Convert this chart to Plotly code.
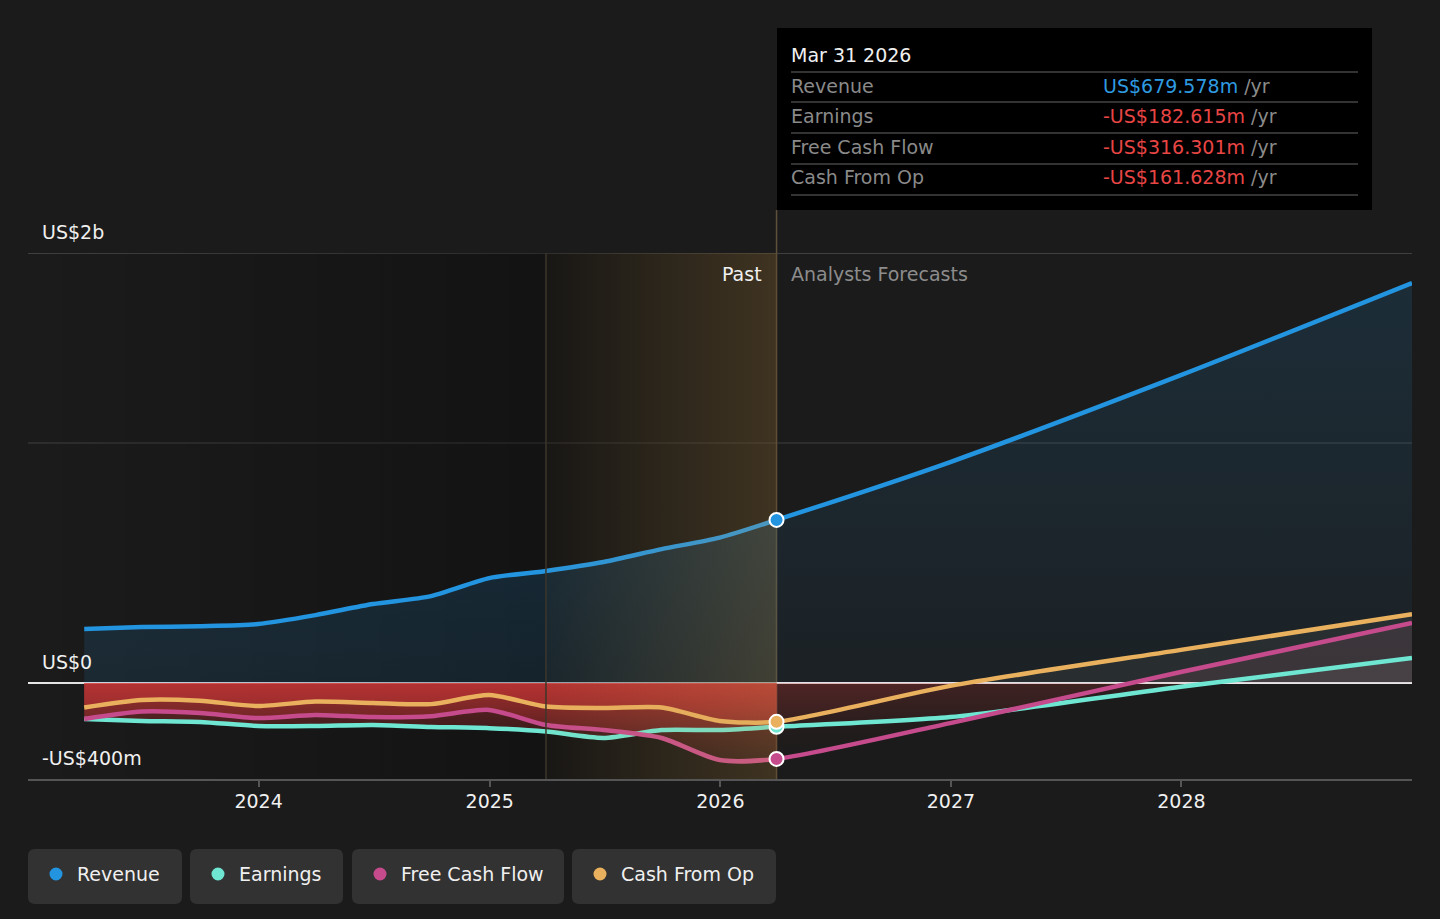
import plotly.graph_objects as go

# quarterly history, then analyst forecasts (US$m)
past_dates = ['2023-03-31', '2023-06-30', '2023-09-30', '2023-12-31', '2024-03-31', '2024-06-30',
              '2024-09-30', '2024-12-31', '2025-03-31', '2025-06-30', '2025-09-30', '2025-12-31',
              '2026-03-31']
forecast_dates = ['2026-03-31', '2026-12-31', '2027-12-31', '2028-12-31']

revenue_past = [225, 233, 237, 246, 283, 329, 362, 437, 467, 504, 558, 606, 679.578]
revenue_fc = [679.578, 921, 1283, 1667]
earnings_past = [-150, -158, -162, -179, -179, -175, -183, -188, -202, -229, -196, -196, -182.615]
earnings_fc = [-182.615, -142, -16, 104]
fcf_past = [-150, -119, -125, -146, -133, -142, -138, -112, -175, -196, -229, -321, -316.301]
fcf_fc = [-316.301, -167, 46, 250]
cfo_past = [-102, -71, -74, -96, -77, -83, -88, -50, -98, -104, -102, -158, -161.628]
cfo_fc = [-161.628, -12, 138, 287]

names = ['Revenue', 'Earnings', 'Free Cash Flow', 'Cash From Op']
colors = ['#2394df', '#6ee6d2', '#c64b8d', '#e9b05e']

X_START, PAST_START, NOW, X_END = '2023-01-01', '2025-03-31', '2026-03-31', '2028-12-31'
Y_MIN, Y_MAX, Y_MID = -400, 1792, 1000

# pixel layout of the page
W, H = 1440, 919
ML, MR, MT, MB = 28, 28, 253, 140
PW, PH = W - ML - MR, H - MT - MB
FONT = 'DejaVu Sans'


def px(x):
    return (x - ML) / PW


def py(y):
    return (H - MB - y) / PH


fig = go.Figure()

# darker "past" region behind everything
fig.add_trace(go.Scatter(
    x=[X_START, NOW, NOW, X_START, X_START], y=[Y_MIN, Y_MIN, Y_MAX, Y_MAX, Y_MIN],
    mode='none', fill='toself', hoverinfo='skip',
    fillgradient=dict(type='horizontal', colorscale=[[0, 'rgba(0,0,0,0)'], [0.69, 'rgba(0,0,0,0.3)'],
                                                     [1, 'rgba(0,0,0,0.3)']])))

# revenue area
fig.add_trace(go.Scatter(
    x=past_dates, y=revenue_past, mode='lines', line=dict(width=0, shape='spline', smoothing=0.7),
    fill='tozeroy', hoverinfo='skip',
    fillgradient=dict(type='vertical', start=0, stop=700,
                      colorscale=[[0, 'rgba(35,148,223,0.12)'], [1, 'rgba(35,148,223,0.18)']])))
fig.add_trace(go.Scatter(
    x=forecast_dates, y=revenue_fc, mode='lines', line=dict(width=0, shape='spline', smoothing=0.7),
    fill='tozeroy', hoverinfo='skip',
    fillgradient=dict(type='vertical', start=0, stop=1700,
                      colorscale=[[0, 'rgba(35,148,223,0.05)'], [1, 'rgba(35,148,223,0.15)']])))

# negative-side areas
pos_tints = ['rgba(200,200,200,0.08)', 'rgba(225,120,150,0.10)', 'rgba(215,200,175,0.07)']
for past, fc, tint in zip([earnings_past, fcf_past, cfo_past], [earnings_fc, fcf_fc, cfo_fc], pos_tints):
    fig.add_trace(go.Scatter(
        x=past_dates, y=past, mode='lines', line=dict(width=0, shape='spline', smoothing=0.7),
        fill='tozeroy', hoverinfo='skip',
        fillgradient=dict(type='vertical', start=-420, stop=0,
                          colorscale=[[0, 'rgba(200,50,50,0.0)'], [1, 'rgba(210,55,55,0.45)']])))
    fig.add_trace(go.Scatter(
        x=forecast_dates, y=fc, mode='lines', line=dict(width=0, shape='spline', smoothing=0.7),
        fill='tozeroy', hoverinfo='skip',
        fillgradient=dict(type='vertical', start=-320, stop=320,
                          colorscale=[[0, 'rgba(200,50,50,0.0)'], [0.5, 'rgba(200,60,60,0.11)'],
                                      [0.501, tint], [1, tint]])))

# lines
for name, color, past, fc in zip(names, colors,
                                 [revenue_past, earnings_past, fcf_past, cfo_past],
                                 [revenue_fc, earnings_fc, fcf_fc, cfo_fc]):
    fig.add_trace(go.Scatter(
        x=past_dates + forecast_dates[1:], y=past + fc[1:], name=name, mode='lines',
        line=dict(color=color, width=4.5, shape='spline', smoothing=0.7), hoverinfo='skip'))

# highlighted last-year band
fig.add_trace(go.Scatter(
    x=[PAST_START, NOW, NOW, PAST_START, PAST_START], y=[Y_MIN, Y_MIN, Y_MAX, Y_MAX, Y_MIN],
    mode='none', fill='toself', hoverinfo='skip',
    fillgradient=dict(type='horizontal', colorscale=[[0, 'rgba(210,160,80,0.03)'],
                                                     [1, 'rgba(210,160,80,0.23)']])))

# current-point markers
fig.add_trace(go.Scatter(
    x=[NOW] * 4, y=[revenue_past[-1], earnings_past[-1], fcf_past[-1], cfo_past[-1]],
    mode='markers', hoverinfo='skip',
    marker=dict(size=14, color=colors, line=dict(color='white', width=2))))

shapes = [
    dict(type='line', xref='paper', yref='y', x0=0, x1=1, y0=Y_MAX, y1=Y_MAX,
         line=dict(color='#4d4d4d', width=1.5), layer='below'),
    dict(type='line', xref='paper', yref='y', x0=0, x1=1, y0=Y_MID, y1=Y_MID,
         line=dict(color='#343434', width=1.5), layer='below'),
    dict(type='line', xref='x', yref='paper', x0=PAST_START, x1=PAST_START, y0=0, y1=1,
         line=dict(color='#3d362b', width=1.5), layer='above'),
    dict(type='line', xref='x', yref='paper', x0=NOW, x1=NOW, y0=0, y1=py(210),
         line=dict(color='#5e503a', width=1.5), layer='below'),
    # tooltip box
    dict(type='rect', xref='paper', yref='paper', x0=px(777), x1=px(1372), y0=py(210), y1=py(28),
         fillcolor='#000000', line=dict(width=0), layer='above'),
]
for yy in [72, 102, 133, 164, 195]:
    shapes.append(dict(type='line', xref='paper', yref='paper', x0=px(791), x1=px(1358),
                       y0=py(yy), y1=py(yy), line=dict(color='#444444', width=1.5), layer='above'))

annotations = [
    dict(text='US$2b', x=px(40), y=py(232)),
    dict(text='US$0', x=px(40), y=py(662)),
    dict(text='-US$400m', x=px(40), y=py(758)),
    dict(text='Mar 31 2026', x=px(789), y=py(55)),
]
for a in annotations:
    a.update(xref='paper', yref='paper', xanchor='left', yanchor='middle', showarrow=False,
             font=dict(family=FONT, size=19, color='#f0f0f0'))

annotations.append(dict(text='Past', xref='x', x=NOW, xshift=-13, yref='paper', y=py(274),
                        xanchor='right', yanchor='middle', showarrow=False,
                        font=dict(family=FONT, size=19, color='#f0f0f0')))
annotations.append(dict(text='Analysts Forecasts', xref='x', x=NOW, xshift=12, yref='paper', y=py(274),
                        xanchor='left', yanchor='middle', showarrow=False,
                        font=dict(family=FONT, size=19, color='#8c8c8c')))

# tooltip rows
now_values = [revenue_past[-1], earnings_past[-1], fcf_past[-1], cfo_past[-1]]
for name, val, yy in zip(names, now_values, [86, 116, 147, 177]):
    vcol = '#2f9be0' if val >= 0 else '#e84545'
    vtxt = ('US$' if val >= 0 else '-US$') + f'{abs(val):.3f}m'
    annotations.append(dict(text=name, xref='paper', yref='paper', x=px(789), y=py(yy),
                            xanchor='left', yanchor='middle', showarrow=False,
                            font=dict(family=FONT, size=19, color='#8a8a8a')))
    annotations.append(dict(text=f"<span style='color:{vcol}'>{vtxt}</span> /yr",
                            xref='paper', yref='paper', x=px(1101), y=py(yy),
                            xanchor='left', yanchor='middle', showarrow=False,
                            font=dict(family=FONT, size=19, color='#8a8a8a')))

# legend chips
chips = [(28, 182), (190, 343), (352, 564), (572, 776)]
cy, hh, r = 876.5, 27.5, 7
for (x0, x1), name, color in zip(chips, names, colors):
    cx, hw = (x0 + x1) / 2, (x1 - x0) / 2
    path = (f'M {-hw + r},{-hh} L {hw - r},{-hh} Q {hw},{-hh} {hw},{-hh + r} L {hw},{hh - r} '
            f'Q {hw},{hh} {hw - r},{hh} L {-hw + r},{hh} Q {-hw},{hh} {-hw},{hh - r} '
            f'L {-hw},{-hh + r} Q {-hw},{-hh} {-hw + r},{-hh} Z')
    shapes.append(dict(type='path', xref='paper', yref='paper', xsizemode='pixel', ysizemode='pixel',
                       xanchor=px(cx), yanchor=py(cy), path=path, fillcolor='#323232',
                       line=dict(width=0)))
    shapes.append(dict(type='circle', xref='paper', yref='paper', xsizemode='pixel', ysizemode='pixel',
                       xanchor=px(x0 + 28), yanchor=py(874), x0=-6.5, x1=6.5, y0=-6.5, y1=6.5,
                       fillcolor=color, line=dict(width=0)))
    annotations.append(dict(text=name, xref='paper', yref='paper', x=px(x0 + 47), y=py(874),
                            xanchor='left', yanchor='middle', showarrow=False,
                            font=dict(family=FONT, size=19, color='#f0f0f0')))

fig.update_layout(
    width=W, height=H, margin=dict(l=ML, r=MR, t=MT, b=MB),
    paper_bgcolor='#1b1b1b', plot_bgcolor='#1b1b1b',
    showlegend=False, shapes=shapes, annotations=annotations,
    font=dict(family=FONT, size=19, color='#f0f0f0'),
)
fig.update_xaxes(range=[X_START, X_END], showgrid=False, zeroline=False,
                 showline=True, linecolor='#555555', linewidth=1.5,
                 ticks='outside', ticklen=6, tickcolor='#555555', tickwidth=1.5,
                 ticklabelstandoff=-2,
                 tickvals=['2024-01-01', '2025-01-01', '2026-01-01', '2027-01-01', '2028-01-01'],
                 ticktext=['2024', '2025', '2026', '2027', '2028'],
                 tickfont=dict(family=FONT, size=19, color='#f0f0f0'))
fig.update_yaxes(range=[Y_MIN, Y_MAX], showgrid=False, showticklabels=False,
                 zeroline=True, zerolinecolor='#e8e8e8', zerolinewidth=2)

fig.write_html('out.html', config={'displayModeBar': False},
               post_script="document.body.style.margin='0';"
                           "document.body.style.background='#1b1b1b';")
